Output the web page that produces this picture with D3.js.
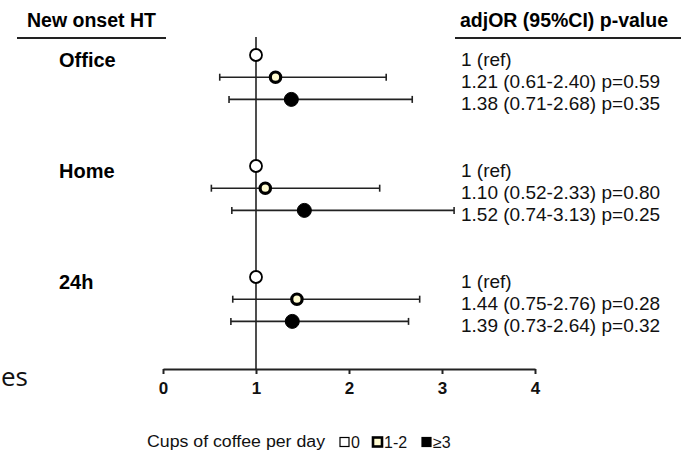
<!DOCTYPE html>
<html>
<head>
<meta charset="utf-8">
<script src="https://cdn.jsdelivr.net/npm/d3@7"></script>
<style>
  body { margin: 0; background: #fff; }
  svg { display: block; font-family: "Liberation Sans", Arial, sans-serif; }
</style>
</head>
<body>
<div id="chart"></div>
<script>
// data
var groups = ['Office', 'Home', '24h'];
var cupCats = ['0', '1-2', '\u22653'];
var orValues = [[1, 1.21, 1.38], [1, 1.10, 1.52], [1, 1.44, 1.39]];
var ciLow = [[null, 0.61, 0.71], [null, 0.52, 0.74], [null, 0.75, 0.73]];
var ciHigh = [[null, 2.40, 2.68], [null, 2.33, 3.13], [null, 2.76, 2.64]];
var pValues = [[null, '0.59', '0.35'], [null, '0.80', '0.25'], [null, '0.28', '0.32']];
var xTicks = [0, 1, 2, 3, 4];

var width = 681, height = 450;

var svg = d3.select('#chart').append('svg')
  .attr('width', width)
  .attr('height', height);

var x = d3.scaleLinear().domain([0, 4]).range([163, 535]);
// row index: 5 rows per group (3 used + gap)
var y = d3.scaleLinear().domain([0, 14]).range([55, 55 + 14 * 22.2]);
var axisY = 369;

// rows flattened
var rows = [];
groups.forEach(function (g, gi) {
  cupCats.forEach(function (c, ci) {
    rows.push({group: g, cat: ci, row: gi * 5 + ci,
      or: orValues[gi][ci], lo: ciLow[gi][ci], hi: ciHigh[gi][ci], p: pValues[gi][ci]});
  });
});

// headers
svg.append('text').attr('x', 27).attr('y', 27)
  .attr('font-size', 19.5).attr('font-weight', 'bold').text('New onset HT');
svg.append('line').attr('x1', 17).attr('x2', 166).attr('y1', 38).attr('y2', 38)
  .attr('stroke', '#222').attr('stroke-width', 2);
svg.append('text').attr('x', 460).attr('y', 27)
  .attr('font-size', 19.5).attr('font-weight', 'bold').text('adjOR (95%CI) p-value');
svg.append('line').attr('x1', 455).attr('x2', 681).attr('y1', 38).attr('y2', 38)
  .attr('stroke', '#222').attr('stroke-width', 2);

// group labels
svg.selectAll('.glabel').data(groups).enter().append('text')
  .attr('class', 'glabel')
  .attr('x', 59)
  .attr('y', function (d, i) { return y(i * 5) + 12; })
  .attr('font-size', 20).attr('font-weight', 'bold')
  .text(function (d) { return d; });

// reference line at OR = 1
svg.append('line')
  .attr('x1', x(1)).attr('x2', x(1))
  .attr('y1', 37).attr('y2', axisY)
  .attr('stroke', '#222').attr('stroke-width', 1.6);

// x axis
var xAxis = d3.axisBottom(x).tickValues(xTicks).tickSize(5).tickSizeOuter(0)
  .tickFormat(d3.format('d'));
var gx = svg.append('g').attr('transform', 'translate(0,' + axisY + ')').call(xAxis)
  .attr('font-size', 17).attr('font-family', '"Liberation Sans", Arial, sans-serif');
gx.select('.domain').attr('stroke', '#222').attr('stroke-width', 2.2);
gx.selectAll('.tick line').attr('stroke', '#222').attr('stroke-width', 2);
gx.selectAll('.tick text').attr('fill', '#111').attr('font-weight', 'bold')
  .attr('dy', '1.0em');

// confidence intervals
var ciRows = rows.filter(function (d) { return d.lo !== null; });
svg.selectAll('.ci').data(ciRows).enter().append('line')
  .attr('class', 'ci')
  .attr('x1', function (d) { return x(d.lo); })
  .attr('x2', function (d) { return x(d.hi); })
  .attr('y1', function (d) { return y(d.row); })
  .attr('y2', function (d) { return y(d.row); })
  .attr('stroke', '#222').attr('stroke-width', 1.6);
['lo', 'hi'].forEach(function (k) {
  svg.selectAll('.cap-' + k).data(ciRows).enter().append('line')
    .attr('class', 'cap-' + k)
    .attr('x1', function (d) { return x(d[k]); })
    .attr('x2', function (d) { return x(d[k]); })
    .attr('y1', function (d) { return y(d.row) - 3.5; })
    .attr('y2', function (d) { return y(d.row) + 3.5; })
    .attr('stroke', '#222').attr('stroke-width', 1.6);
});

// markers
var markerFill = ['#ffffff', '#fffbd0', '#000000'];
var markerStroke = [1.8, 3.2, 1];
var markerR = [6, 5.2, 7];
svg.selectAll('.pt').data(rows).enter().append('circle')
  .attr('class', 'pt')
  .attr('cx', function (d) { return x(d.or); })
  .attr('cy', function (d) { return y(d.row); })
  .attr('r', function (d) { return markerR[d.cat]; })
  .attr('fill', function (d) { return markerFill[d.cat]; })
  .attr('stroke', '#000')
  .attr('stroke-width', function (d) { return markerStroke[d.cat]; });

// right-hand estimates
svg.selectAll('.est').data(rows).enter().append('text')
  .attr('class', 'est')
  .attr('x', 461)
  .attr('y', function (d) { return y(d.row) + 11; })
  .attr('font-size', 19).attr('fill', '#111')
  .text(function (d) {
    if (d.lo === null) return '1 (ref)';
    return d3.format('.2f')(d.or) + ' (' + d3.format('.2f')(d.lo) + '-' +
      d3.format('.2f')(d.hi) + ') p=' + d.p;
  });

// legend
var legY = 442;
svg.append('text').attr('x', 147).attr('y', legY + 5)
  .attr('font-size', 16).attr('fill', '#111')
  .attr('textLength', 178).attr('lengthAdjust', 'spacingAndGlyphs')
  .text('Cups of coffee per day');
var legX = [340, 373, 422];
var legG = svg.selectAll('.leg').data(cupCats).enter().append('g')
  .attr('class', 'leg')
  .attr('transform', function (d, i) { return 'translate(' + legX[i] + ',' + legY + ')'; });
legG.append('rect')
  .attr('x', 0).attr('y', -4.5).attr('width', 9).attr('height', 9)
  .attr('fill', function (d, i) { return markerFill[i]; })
  .attr('stroke', '#000')
  .attr('stroke-width', function (d, i) { return i === 1 ? 2.6 : 1.2; });
legG.append('text').attr('x', 11).attr('y', 5.5)
  .attr('font-size', 16).attr('fill', '#111')
  .text(function (d) { return d; });

// stray slide text at the left edge
svg.append('text').attr('x', 1).attr('y', 386)
  .attr('font-family', '"Open Sans", "Noto Sans", sans-serif')
  .attr('font-size', 26).attr('fill', '#111').text('es');
</script>
</body>
</html>
